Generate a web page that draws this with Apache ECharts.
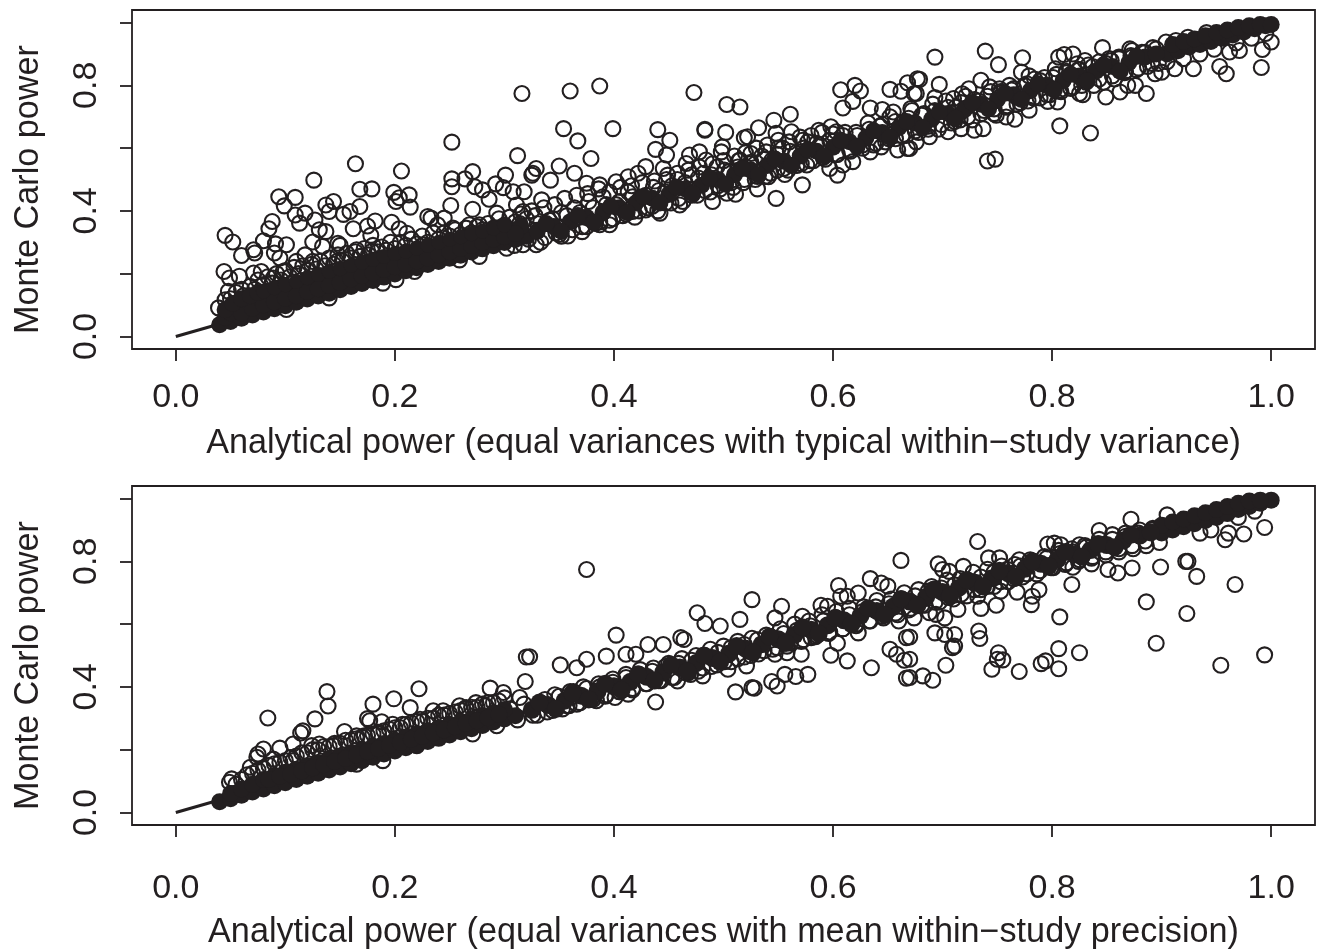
<!DOCTYPE html>
<html><head><meta charset="utf-8">
<style>html,body{margin:0;padding:0;background:#fff}#c{width:1323px;height:951px}</style>
<script src="https://cdn.jsdelivr.net/npm/echarts@6/dist/echarts.min.js"></script>
</head><body><div id="c"></div>
<script>
const xTicks=[0,0.2,0.4,0.6,0.8,1];
const yTicks=[0,0.2,0.4,0.6,0.8,1];
const yLabelTicks=[0,0.4,0.8];
const yTitle='Monte Carlo power';
const topTitle='Analytical power (equal variances with typical within\u2212study variance)';
const bottomTitle='Analytical power (equal variances with mean within\u2212study precision)';
const identityLine=[[0,0],[1,1]];

const topOutliers=[[.316,.774],[.252,.619],[.312,.576],[.164,.55],[.206,.527],[.126,.498],[.168,.469],[.179,.47],[.094,.445],[.109,.443],[.199,.459],[.213,.451],[.204,.442],[.201,.43],[.214,.412],[.252,.502],[.252,.477],[.264,.502],[.271,.525],[.273,.477],[.28,.467],[.286,.437],[.292,.486],[.301,.514],[.299,.474],[.308,.461],[.318,.461],[.325,.514],[.099,.416],[.144,.43],[.137,.419],[.14,.398],[.168,.414],[.159,.398],[.153,.389],[.118,.393],[.109,.387],[.113,.361],[.127,.371],[.088,.366],[.085,.343],[.08,.305],[.091,.295],[.101,.292],[.045,.322],[.052,.301],[.071,.276],[.072,.266],[.06,.258],[.09,.266],[.095,.25],[.044,.207],[.131,.34],[.137,.334],[.125,.301],[.134,.287],[.118,.26],[.148,.297],[.15,.29],[.162,.343],[.175,.352],[.178,.322],[.182,.368],[.197,.364],[.204,.343],[.211,.329],[.165,.276],[.179,.271],[.23,.382],[.233,.377],[.239,.356],[.245,.377],[.251,.417],[.271,.405],[.253,.345],[.268,.356],[.277,.356],[.293,.393],[.311,.419],[.317,.398],[.226,.292],[.201,.26],[.207,.26],[.071,.202],[.078,.207],[.058,.192],[.049,.186],[.048,.144],[.045,.117],[.039,.091],[.098,.207],[.11,.239],[.125,.239],[.147,.239],[.089,.186],
[.36,.782],[.387,.798],[.473,.777],[.503,.739],[.515,.731],[.354,.662],[.367,.623],[.399,.662],[.44,.659],[.451,.625],[.438,.596],[.448,.578],[.379,.567],[.483,.66],[.483,.657],[.502,.65],[.532,.665],[.546,.689],[.561,.708],[.519,.633],[.522,.636],[.499,.604],[.498,.588],[.548,.647],[.55,.625],[.562,.652],[.587,.657],[.598,.668],[.607,.786],[.62,.8],[.625,.782],[.609,.728],[.618,.749],[.634,.728],[.645,.723],[.652,.787],[.662,.781],[.668,.808],[.677,.821],[.674,.774],[.671,.726],[.655,.715],[.35,.543],[.364,.52],[.329,.535],[.326,.52],[.342,.498],[.334,.435],[.375,.488],[.387,.483],[.402,.493],[.413,.509],[.429,.541],[.422,.52],[.445,.535],[.449,.514],[.469,.578],[.478,.588],[.466,.551],[.484,.562],[.515,.562],[.525,.583],[.539,.588],[.572,.625],[.603,.652],
[.693,.89],[.739,.909],[.751,.866],[.773,.888],[.679,.819],[.697,.803],[.676,.774],[.693,.761],[.735,.816],[.772,.842],[.779,.83],[.806,.89],[.811,.898],[.819,.9],[.846,.92],[.873,.911],[.854,.879],[.71,.758],[.718,.773],[.724,.789],[.743,.795],[.752,.789],[.761,.8],[.803,.853],[.83,.879],[.823,.869],[.871,.916],[.895,.916],[.904,.938],[.913,.943],[.924,.953],[.941,.968]];
const topLowRings=[[.218,.207],[.201,.181],[.189,.17],[.259,.244],[.277,.255],[.302,.281],[.317,.292],[.14,.123],[.101,.086],[.531,.47],[.572,.483],[.548,.44],[.49,.43],[.503,.456],[.511,.453],[.46,.419],[.442,.393],[.417,.398],[.429,.403],[.396,.356],[.387,.356],[.371,.334],[.352,.319],[.329,.292],[.556,.516],[.541,.509],[.576,.546],[.604,.514],[.597,.535],[.618,.557],[.609,.546],[.634,.588],[.644,.604],[.659,.594],[.668,.599],
[.807,.671],[.835,.648],[.741,.559],[.748,.565],[.886,.774],[.959,.837],[.991,.857],[.992,.914],[1,.938],[.953,.86],[.796,.749],[.805,.747],[.825,.774],[.828,.77],[.849,.763],[.862,.779],[.869,.8],[.876,.8],[.894,.837],[.9,.842],[.912,.853],[.929,.853],[.971,.911],[.962,.906],[.779,.721],[.766,.692],[.758,.699],[.749,.705],[.737,.662],[.729,.657],[.717,.662],[.705,.652],[.688,.636],[.676,.62],[.67,.599]];
const topBandRings=[[.303,.34],[.309,.29],[.314,.36],[.322,.31],[.328,.385],[.333,.3],[.341,.37],[.347,.33],[.352,.395],[.358,.32],[.364,.41],[.371,.35],[.377,.43],[.383,.36],[.39,.445],[.396,.37],[.402,.42],[.408,.385],[.413,.46],[.419,.38],[.424,.44],[.431,.41],[.436,.475],[.44,.4],[.447,.46],[.452,.425],[.458,.5],[.463,.43],[.471,.515],[.476,.45],[.482,.52],[.488,.46],[.494,.54],[.497,.47],[.505,.525],[.509,.475],[.514,.56],[.518,.49],[.524,.55],[.529,.5],[.535,.575],[.538,.51],[.544,.56],[.549,.53],[.554,.6],[.559,.53],[.566,.585],[.571,.55],[.577,.62],[.582,.56],[.588,.61],[.593,.565],[.6,.645],[.604,.58],[.611,.65],[.616,.59],[.622,.64],[.627,.6],[.632,.68],[.637,.61],[.643,.67],[.648,.62],[.652,.7],[.657,.63],[.663,.68],[.667,.64],[.672,.72],[.678,.65],[.683,.71],[.687,.67],[.691,.74],[.696,.66],[.703,.75],[.708,.68],[.712,.73],[.716,.69],[.721,.765],[.727,.69],[.733,.75],[.738,.72],[.744,.78],[.747,.71],[.753,.775],[.758,.73],[.763,.785],[.768,.74],[.775,.8],[.778,.75],[.784,.82],[.789,.76],[.793,.825],[.798,.77],[.804,.835],[.808,.78],[.813,.845],[.817,.79],[.824,.85],[.827,.8],[.833,.865],[.838,.8],[.843,.875],[.847,.81],[.852,.885],[.857,.82],[.861,.89],[.866,.84],[.872,.895],[.877,.85],[.882,.905],[.887,.86],[.892,.92],[.897,.87],[.905,.875],[.92,.885],[.935,.9],[.948,.915],[.968,.935],[.982,.95],[.995,.965]];
const topCloudRings=[[.05,.12],[.055,.14],[.06,.15],[.062,.13],[.068,.16],[.072,.15],[.075,.18],[.08,.165],[.084,.19],[.088,.17],[.092,.2],[.096,.18],[.1,.21],[.104,.19],[.108,.22],[.112,.2],[.116,.225],[.12,.21],[.124,.23],[.128,.215],[.132,.24],[.136,.225],[.14,.25],[.144,.23],[.148,.26],[.152,.24],[.156,.265],[.16,.25],[.164,.27],[.168,.255],[.172,.28],[.176,.26],[.18,.29],[.184,.27],[.188,.285],[.192,.275],[.196,.3],[.2,.28],[.205,.3],[.21,.29],[.215,.31],[.22,.295],[.225,.32],[.23,.3],[.235,.33],[.24,.31],[.245,.33],[.25,.32],[.255,.34],[.26,.325],[.265,.345],[.27,.33],[.275,.35],[.28,.34],[.285,.36],[.29,.345],[.295,.375],[.3,.355],[.305,.38],[.31,.365],[.315,.39],[.32,.375],
[.33,.36],[.337,.315],[.344,.375],[.35,.325],[.357,.385],[.362,.34],[.369,.395],[.375,.35],[.381,.41],[.387,.365],[.393,.42],[.399,.375],[.405,.43],[.411,.39],[.417,.445],[.423,.4],[.429,.45],[.435,.415],[.441,.465],[.447,.425],[.453,.48],[.459,.44],[.465,.49],[.471,.45],[.477,.505],[.483,.465],[.489,.515],[.495,.48],[.501,.53],[.507,.49],[.513,.54],[.519,.5],[.525,.555],[.531,.51],[.537,.565],[.543,.52],[.549,.58],[.555,.535],[.561,.59],[.567,.545],[.573,.6],[.579,.56],[.585,.615],[.591,.57],[.597,.625],[.603,.58],[.609,.64],[.615,.595],[.621,.65],[.627,.61],[.633,.66],[.639,.615],[.645,.675],[.651,.63],[.657,.685],[.663,.64],[.669,.695],[.675,.655],[.681,.705],[.687,.66],[.693,.72],[.699,.675],[.705,.73],[.711,.685],[.717,.745],[.723,.7],[.729,.755],[.735,.71],[.741,.765],[.747,.725],[.753,.78],[.759,.735],[.765,.79],[.771,.745],[.777,.805],[.783,.76],[.789,.815],[.795,.77],[.801,.825],[.807,.785],[.813,.84],[.819,.795],[.825,.85],[.831,.81],[.837,.86],[.843,.82],[.849,.87],[.855,.83],[.861,.885],[.867,.845],[.873,.89],[.879,.855],[.885,.905],[.891,.87],
[.325,.4],[.336,.41],[.346,.42],[.355,.44],[.366,.45],[.376,.455],[.386,.47],[.396,.46],[.406,.475],[.416,.48],[.426,.49],[.437,.495],[.448,.5],[.458,.52],[.468,.53],[.478,.54],[.49,.55],[.5,.56],[.51,.575],[.52,.585],[.53,.6],[.54,.61],[.55,.6],[.56,.62],[.57,.635],[.58,.64],[.59,.65]];
const topCoreLarge=[[.04,.037],[.05,.048],[.06,.058],[.07,.068],[.08,.078],[.09,.088],[.1,.098],[.11,.109],[.12,.119],[.13,.129],[.14,.138],[.15,.149],[.16,.159],[.17,.169],[.18,.178],[.19,.189],[.2,.199],[.21,.209],[.22,.219],[.23,.229],[.24,.239],[.25,.249],[.26,.259],[.27,.269],[.28,.279],[.29,.289],[.3,.299],[.31,.309],[.32,.319],
[.045,.06],[.055,.085],[.065,.1],[.075,.115],[.085,.125],[.095,.137],[.105,.148],[.115,.158],[.125,.168],[.135,.18],[.145,.19],[.155,.2],[.165,.21],[.175,.22],[.185,.23],[.195,.24],[.205,.248],[.215,.256],[.225,.265],[.235,.273],[.245,.282],[.255,.292],[.265,.3],[.275,.31],[.285,.32],[.295,.33],[.305,.34],[.315,.35],
[.05,.075],[.06,.075],[.07,.09],[.08,.1],[.09,.11],[.1,.122],[.11,.13],[.12,.143],[.13,.152],[.14,.162],[.15,.172],[.16,.183],[.17,.193],[.18,.202],[.19,.213],[.2,.222],[.21,.231],[.22,.24],[.23,.25],[.24,.26],[.25,.27],[.26,.28],[.27,.29],[.28,.3],[.29,.31],[.3,.318],[.31,.328],
[.045,.085],[.052,.105],[.06,.12],[.068,.13],[.075,.14],
[.905,.9],[.915,.91],[.925,.922],[.935,.93],[.945,.94],[.955,.95],[.965,.96],[.975,.97],[.985,.98],[.995,.99],[.91,.93],[.92,.94],[.93,.948],[.94,.958],[.95,.968],[.96,.976],[.97,.984],[.98,.99],[.99,.994],[1,.994]];
const topCoreUpper=[[.08,.145],[.09,.155],[.1,.165],[.11,.175],[.12,.187],[.13,.197],[.14,.207],[.15,.216],[.16,.226],[.17,.236],[.18,.245],[.19,.255],[.2,.264],[.21,.272],[.22,.282],[.23,.291],[.24,.3],[.25,.31],[.26,.318],[.27,.327],[.28,.336],[.29,.345],[.3,.355]];
const topCoreMid=[[.33,.335],[.345,.35],[.36,.365],[.375,.38],[.39,.395],[.405,.41],[.42,.425],[.435,.44],[.45,.452],[.465,.47],[.48,.482],[.495,.5],[.51,.515],[.525,.53],[.54,.545],[.555,.558],[.57,.575],[.585,.59],[.6,.603],[.615,.62],[.63,.632],[.645,.65],[.66,.665],[.675,.68],[.69,.692],[.705,.71],[.72,.722],[.735,.74],[.75,.755],[.765,.77],[.78,.783],[.795,.8],[.81,.815],[.825,.83],[.84,.845],[.855,.86],[.87,.872],[.885,.89],[.895,.9],
[.338,.36],[.352,.335],[.367,.385],[.382,.365],[.397,.415],[.412,.395],[.427,.445],[.442,.425],[.457,.475],[.472,.455],[.487,.505],[.502,.485],[.517,.535],[.532,.515],[.547,.565],[.562,.545],[.577,.595],[.592,.575],[.607,.625],[.622,.605],[.637,.655],[.652,.635],[.667,.685],[.682,.665],[.697,.715],[.712,.695],[.727,.745],[.742,.725],[.757,.775],[.772,.755],[.787,.805],[.802,.785],[.817,.835],[.832,.815],[.847,.865],[.862,.845],[.877,.892]];

const bottomOutliers=[[.138,.385],[.139,.339],[.222,.394],[.199,.362],[.18,.345],[.214,.334],[.084,.301],[.127,.298],[.175,.299],[.177,.292],[.188,.289],[.287,.396],[.299,.382],[.32,.495],[.319,.417],[.116,.26],[.114,.253],[.154,.258],[.08,.202],[.075,.186],[.074,.176],[.095,.205],[.107,.218],[.124,.213],[.131,.218],[.144,.213],[.165,.244],[.172,.244],[.185,.25],[.198,.281],[.207,.281],[.223,.297],[.235,.324],[.244,.324],[.259,.34],[.274,.35],[.283,.34],[.265,.334],[.051,.107],[.049,.096],[.068,.144],[.089,.17],[.107,.165],[.22,.213],[.293,.276],[.271,.25],[.314,.366],
[.375,.774],[.662,.803],[.323,.496],[.402,.565],[.351,.47],[.526,.678],[.553,.657],[.476,.636],[.483,.602],[.497,.594],[.515,.615],[.605,.723],[.634,.745],[.644,.731],[.65,.721],[.623,.699],[.613,.689],[.607,.689],[.589,.66],[.595,.657],[.572,.625],[.547,.62],[.431,.535],[.445,.535],[.461,.557],[.464,.551],[.411,.504],[.42,.504],[.393,.498],[.375,.488],[.366,.461],
[.732,.863],[.872,.934],[.905,.948],[.843,.898],[.696,.792],[.719,.784],[.742,.811],[.752,.811],[.77,.805],[.796,.855],[.802,.858],[.808,.853],[.825,.853],[.706,.768],[.7,.774]];
const bottomLowRings=[[.189,.165],[.165,.154],[.438,.352],[.511,.384],[.526,.398],[.528,.396],[.544,.417],[.549,.403],[.556,.44],[.566,.433],[.577,.44],[.521,.467],[.571,.504],[.598,.501],[.613,.483],[.604,.539],[.635,.461],[.667,.557],[.652,.52],[.658,.504],[.665,.485],[.667,.428],[.623,.572],[.66,.61],[.58,.557],[.558,.509],[.547,.504],[.504,.456],[.481,.435],[.458,.419],[.413,.377],[.401,.366],[.384,.356],[.359,.34],[.47,.44],
[.818,.726],[.807,.623],[.886,.671],[.923,.634],[.895,.539],[.954,.469],[.994,.502],[.967,.726],[.932,.752],[.922,.8],[.924,.8],[.899,.782],[.873,.779],[.86,.763],[.851,.774],[.994,.908],[.975,.887],[.958,.869],[.961,.89],[.825,.509],[.806,.522],[.806,.458],[.794,.483],[.79,.474],[.77,.449],[.745,.456],[.751,.509],[.75,.488],[.755,.486],[.733,.578],[.734,.554],[.703,.469],[.691,.421],[.682,.435],[.67,.43],[.711,.567],[.693,.572],[.702,.567],[.711,.53],[.709,.525],[.67,.488],[.67,.559],[.735,.65],[.749,.66],[.781,.662],[.788,.71],[.768,.702],[.782,.689],[.753,.705],[.732,.689],[.694,.631],[.702,.62],[.714,.647],[.674,.62],[.688,.636],[.819,.781],[.836,.792]];
const bottomBandRings=[[.305,.33],[.312,.295],[.318,.345],[.326,.31],[.333,.35],[.339,.32],[.346,.375],[.353,.33],[.36,.385],[.366,.345],[.372,.4],[.379,.36],[.386,.41],[.392,.37],[.399,.425],[.405,.385],[.411,.44],[.417,.39],[.424,.455],[.43,.41],[.436,.46],[.443,.42],[.45,.475],[.455,.43],[.462,.49],[.468,.445],[.475,.5],[.481,.46],[.488,.52],[.494,.47],[.5,.53],[.507,.48],[.513,.545],[.519,.495],[.526,.555],[.532,.505],[.539,.565],[.545,.52],[.552,.585],[.558,.53],[.565,.6],[.571,.545],[.578,.61],[.584,.56],[.59,.63],[.596,.57],[.603,.64],[.609,.585],[.615,.65],[.621,.595],[.628,.655],[.634,.61],[.64,.675],[.646,.62],[.653,.68],[.659,.63],[.665,.7],[.671,.65],[.678,.71],[.684,.66],[.69,.72],[.697,.67],[.704,.74],[.71,.68],[.716,.745],[.722,.69],[.728,.765],[.735,.71],[.741,.775],[.747,.72],[.754,.785],[.76,.735],[.766,.79],[.773,.75],[.78,.805],[.786,.76],[.793,.815],[.799,.78],[.806,.835],[.812,.79],[.818,.84],[.824,.8],[.83,.85],[.836,.81],[.843,.87],[.849,.82],[.855,.885],[.861,.83],[.867,.89],[.874,.84],[.88,.9],[.886,.85],[.892,.905],[.898,.86],[.935,.89],[.945,.9],[.97,.94],[.985,.96]];
const bottomCloudRings=[[.055,.09],[.06,.105],[.065,.12],[.07,.125],[.075,.135],[.08,.14],[.085,.15],[.09,.155],[.095,.16],[.1,.165],[.105,.175],[.11,.18],[.115,.19],[.12,.19],[.125,.2],[.13,.2],[.135,.21],[.14,.21],[.145,.22],[.15,.22],[.155,.23],[.16,.23],[.165,.235],[.17,.24],[.175,.245],[.18,.25],[.185,.255],[.19,.26],[.195,.265],[.2,.27],[.205,.27],[.21,.28],[.215,.285],[.22,.29],[.225,.29],[.23,.3],[.235,.3],[.24,.31],[.245,.31],[.25,.315],[.255,.32],[.26,.325],[.265,.33],[.27,.335],[.275,.335],[.28,.345],[.285,.35],[.29,.35],[.295,.355],[.3,.365],
[.33,.31],[.337,.36],[.344,.325],[.35,.37],[.357,.34],[.363,.385],[.369,.35],[.375,.395],[.381,.36],[.387,.4],[.393,.375],[.399,.415],[.405,.385],[.411,.43],[.417,.395],[.423,.44],[.429,.41],[.435,.45],[.441,.42],[.447,.465],[.453,.43],[.459,.475],[.465,.445],[.471,.485],[.477,.45],[.483,.5],[.489,.465],[.495,.51],[.501,.48],[.507,.525],[.513,.49],[.519,.535],[.525,.5],[.531,.55],[.537,.515],[.543,.56],[.549,.525],[.555,.57],[.561,.54],[.567,.58],[.573,.55],[.579,.595],[.585,.565],[.591,.61],[.597,.575],[.603,.62],[.609,.585],[.615,.63],[.621,.6],[.627,.64],[.633,.61],[.639,.655],[.645,.625],[.651,.665],[.657,.635],[.663,.68],[.669,.645],[.675,.69],[.681,.66],[.687,.705],[.693,.67],[.699,.715],[.705,.685],[.711,.725],[.717,.695],[.723,.74],[.729,.71],[.735,.75],[.741,.72],[.747,.765],[.753,.735],[.759,.775],[.765,.745],[.771,.785],[.777,.76],[.783,.8],[.789,.77],[.795,.81],[.801,.78],[.807,.825],[.813,.795],[.819,.83],[.825,.805],[.831,.845],[.837,.815],[.843,.855],[.849,.83],[.855,.87],[.861,.84],[.867,.88],[.873,.85],[.879,.89],[.885,.865],[.891,.9]];
const bottomCoreLarge=[[.04,.034],[.05,.044],[.06,.055],[.07,.065],[.08,.075],[.09,.085],[.1,.095],[.11,.105],[.12,.115],[.13,.125],[.14,.135],[.15,.145],[.16,.155],[.17,.165],[.18,.176],[.19,.186],[.2,.196],[.21,.206],[.22,.216],[.23,.226],[.24,.236],[.25,.247],[.26,.257],[.27,.267],[.28,.277],[.29,.288],[.3,.298],[.31,.308],
[.05,.06],[.06,.075],[.07,.09],[.08,.105],[.09,.118],[.1,.128],[.11,.138],[.12,.149],[.13,.159],[.14,.17],[.15,.18],[.16,.19],[.17,.2],[.18,.21],[.19,.22],[.2,.23],[.21,.24],[.22,.25],[.23,.26],[.24,.27],[.25,.28],[.26,.288],[.27,.298],[.28,.308],[.29,.318],[.3,.328],
[.085,.105],[.095,.115],[.105,.122],[.115,.132],[.125,.142],[.135,.152],[.145,.162],[.155,.172],[.165,.183],[.175,.193],[.185,.203],[.195,.213],[.205,.223],[.215,.233],[.225,.243],[.235,.253],[.245,.263],[.255,.273],[.265,.283],[.275,.292],[.285,.302],[.295,.312],
[.9,.89],[.91,.9],[.92,.91],[.93,.92],[.94,.93],[.95,.94],[.96,.952],[.97,.965],[.98,.975],[.99,.985],[1,.995],[.9,.915],[.91,.925],[.92,.935],[.93,.945],[.94,.955],[.95,.965],[.96,.975],[.97,.985],[.98,.992],[.99,.995]];
const bottomCoreMid=[[.325,.327],[.34,.342],[.355,.356],[.37,.372],[.385,.386],[.4,.402],[.415,.416],[.43,.432],[.445,.446],[.46,.462],[.475,.476],[.49,.492],[.505,.506],[.52,.522],[.535,.536],[.55,.552],[.565,.566],[.58,.582],[.595,.596],[.61,.612],[.625,.626],[.64,.642],[.655,.656],[.67,.672],[.685,.686],[.7,.702],[.715,.716],[.73,.732],[.745,.746],[.76,.762],[.775,.776],[.79,.792],[.805,.806],[.82,.822],[.835,.836],[.85,.852],[.865,.866],[.88,.882],[.89,.892],
[.332,.35],[.347,.33],[.362,.38],[.377,.36],[.392,.41],[.407,.39],[.422,.44],[.437,.42],[.452,.47],[.467,.45],[.482,.5],[.497,.48],[.512,.53],[.527,.51],[.542,.56],[.557,.54],[.572,.59],[.587,.57],[.602,.62],[.617,.6],[.632,.65],[.647,.63],[.662,.68],[.677,.66],[.692,.71],[.707,.69],[.722,.74],[.737,.72],[.752,.77],[.767,.75],[.782,.8],[.797,.785],[.812,.83],[.827,.815],[.842,.855],[.857,.845],[.872,.885]];

const ink='#231f20';
const font='"Liberation Sans"';
function grid(top){return {left:132,right:8,top:top,height:339,show:true,backgroundColor:'transparent',borderColor:ink,borderWidth:1.8};}
function xAxis(i,name,margin,gap){return {gridIndex:i,type:'value',min:-0.04,max:1.04,name:name,nameLocation:'middle',nameGap:gap,nameMoveOverlap:false,
  nameTextStyle:{fontFamily:font,fontSize:34.2,color:ink},
  axisLine:{show:false,onZero:false},splitLine:{show:false},
  axisTick:{show:true,length:12,inside:false,customValues:xTicks,lineStyle:{color:ink,width:1.8}},
  axisLabel:{show:true,margin:margin,fontFamily:font,fontSize:34,color:ink,customValues:xTicks,formatter:v=>v.toFixed(1)}};}
function yAxis(i){return {gridIndex:i,type:'value',min:-0.04,max:1.04,name:yTitle,nameLocation:'middle',nameGap:86,nameRotate:90,nameMoveOverlap:false,
  nameTextStyle:{fontFamily:font,fontSize:34.2,color:ink,padding:[0,20,0,0]},
  axisLine:{show:false,onZero:false},splitLine:{show:false},
  axisTick:{show:true,length:12,inside:false,customValues:yTicks,lineStyle:{color:ink,width:1.8}},
  axisLabel:{show:true,margin:45,rotate:90,verticalAlign:'middle',align:'center',fontFamily:font,fontSize:34,color:ink,customValues:yLabelTicks,formatter:v=>v.toFixed(1)}};}
function rings(i,data){return {type:'scatter',xAxisIndex:i,yAxisIndex:i,data:data,symbol:'circle',symbolSize:15,z:3,
  itemStyle:{color:'rgba(0,0,0,0)',borderColor:ink,borderWidth:2.1,opacity:1},emphasis:{disabled:true},silent:true};}
function discs(i,data,size){return {type:'scatter',xAxisIndex:i,yAxisIndex:i,data:data,symbol:'circle',symbolSize:size,z:3,
  itemStyle:{color:ink,opacity:1},emphasis:{disabled:true},silent:true};}
function line(i){return {type:'line',xAxisIndex:i,yAxisIndex:i,data:identityLine,symbol:'none',z:2,lineStyle:{color:ink,width:3.2},silent:true};}
const chart=echarts.init(document.getElementById('c'),null,{renderer:'canvas'});
chart.setOption({animation:false,backgroundColor:'#fff',
  grid:[grid(10),grid(486)],
  xAxis:[xAxis(0,topTitle,32,78),xAxis(1,bottomTitle,47,91)],
  yAxis:[yAxis(0),yAxis(1)],
  series:[line(0),rings(0,topOutliers),rings(0,topLowRings),rings(0,topBandRings),rings(0,topCloudRings),discs(0,topCoreLarge,17),discs(0,topCoreUpper,15),discs(0,topCoreMid,17),
          line(1),rings(1,bottomOutliers),rings(1,bottomLowRings),rings(1,bottomBandRings),rings(1,bottomCloudRings),discs(1,bottomCoreLarge,17),discs(1,bottomCoreMid,18)]
});
</script></body></html>
